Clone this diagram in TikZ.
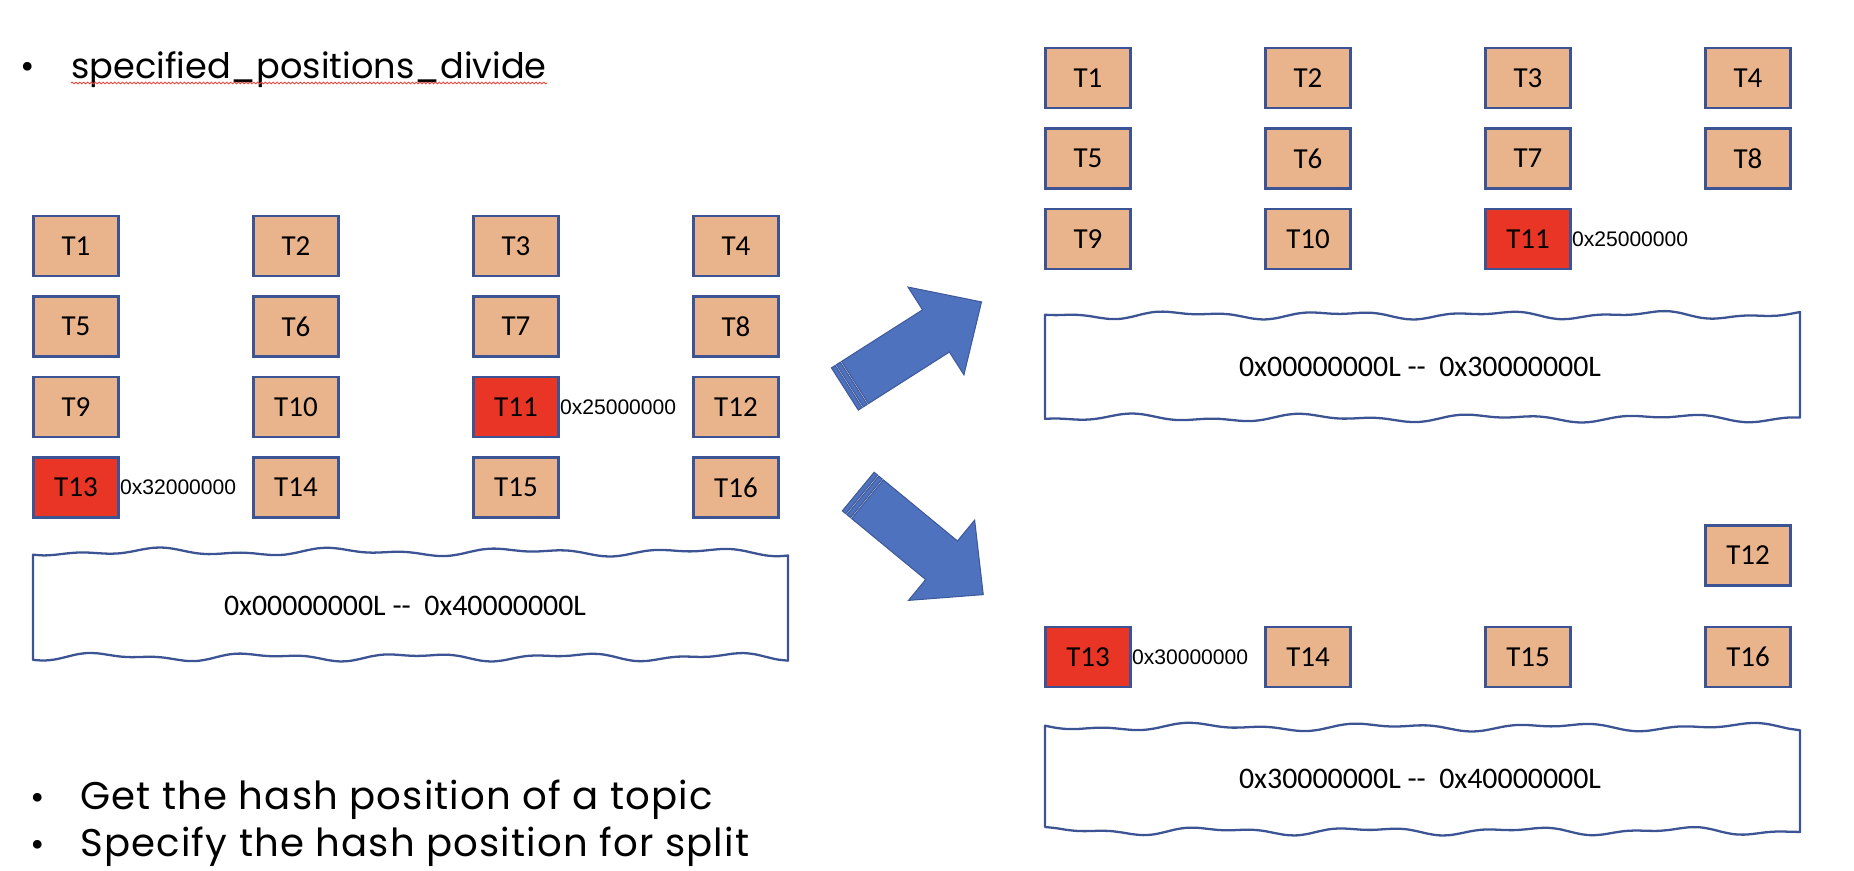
\documentclass[tikz,border=0pt]{standalone}
\usepackage{fontspec}
\newfontfamily\calfont{Carlito}
\newfontfamily\arialfont{Liberation Sans}
\newfontfamily\slidefont{Poppins}
\newfontfamily\hintfont[LetterSpace=3]{Poppins}
\usetikzlibrary{positioning, decorations.pathmorphing}

\definecolor{peach}{RGB}{233,180,139}
\definecolor{hotred}{RGB}{233,53,37}
\definecolor{edgeblue}{RGB}{61,84,148}
\definecolor{arrowblue}{RGB}{79,114,190}
\definecolor{arrowedge}{RGB}{62,90,155}
\definecolor{squiggle}{RGB}{235,70,60}

\begin{document}
\begin{tikzpicture}[
		% one unit = one pixel of the slide, y grows downwards
		x={(0.02cm,0)}, y={(0,-0.02cm)},
		topic/.style={draw=edgeblue, line width=1.4pt, minimum width=1.7cm, minimum height=1.2cm,
			inner sep=0pt, font=\calfont\fontsize{16.5}{18}\selectfont},
		hexlbl/.style={inner sep=0pt, font=\arialfont\fontsize{12}{14}\selectfont},
		rangelbl/.style={inner sep=0pt, font=\calfont\fontsize{17}{20}\selectfont},
		band/.style={draw=edgeblue, line width=1.3pt, line join=round},
		bigarrow/.style={fill=arrowblue, draw=arrowedge, line width=0.6pt, line join=miter},
		slidetext/.style={anchor=base west, inner sep=0pt, font=\slidefont\fontsize{20}{24}\selectfont},
		hinttext/.style={slidetext, font=\hintfont\fontsize{22}{26}\selectfont},
		declare function={
			wtop(\t)=2.6*sin(2.0*\t+20)+1.9*sin(4.4*\t+70);
			wbot(\t)=2.8*sin(2.3*\t+110)+1.7*sin(4.9*\t+10);
		}
		]
		
		\useasboundingbox (0,0) rectangle (1854,870);
		
		% --- title bullet ---
		\node[slidetext] (dot0) at (20,78) {•};
		\node[slidetext] (spd) at (71,78) {specified\_positions\_divide};
		\draw[squiggle, line width=0.5pt, decorate, decoration={snake, amplitude=0.5pt, segment length=2.2pt}]
		([yshift=-0.1cm]spd.base west) -- ([yshift=-0.1cm]spd.base east);
		
		% --- 1. BEFORE THE SPLIT ---
		\foreach \t in {1,...,16}{
			\pgfmathtruncatemacro{\col}{mod(\t-1,4)}
			\pgfmathtruncatemacro{\row}{(\t-1)/4}
			\ifnum\t=11 \def\hue{hotred}\else\ifnum\t=13 \def\hue{hotred}\else\def\hue{peach}\fi\fi
			\node[topic, fill=\hue] (L\t) at ({76+220*\col},{246+80.5*\row}) {T\t};
		}
		\node[hexlbl, right=0pt of L11] (Lh11) {0x25000000};
		\node[hexlbl, right=0pt of L13] (Lh13) {0x32000000};
		
		\begin{scope}[shift={(33,552)}]
			\draw[band] plot[smooth, domain=0:755, samples=70] (\x,{wtop(\x)})
			-- plot[smooth, domain=755:0, samples=70] (\x,{105+wbot(\x)}) -- cycle;
		\end{scope}
		\node[rangelbl] (Lrange) at (405,606) {0x00000000L -{}-\hspace{0.45em}0x40000000L};
		
		% --- 2. THE TWO ARROWS ---
		\begin{scope}[shift={(855,382.5)}, rotate=32.5]
			\draw[bigarrow] (-12,-25) rectangle (-7.5,25);
			\draw[bigarrow] (-6,-25) rectangle (-1.5,25);
			\draw[bigarrow] (0,-25) -- (96,-25) -- (96,-52) -- (150,0) -- (96,52) -- (96,25) -- (0,25) -- cycle;
		\end{scope}
		\begin{scope}[shift={(867.5,499.2)}, rotate=-39.5]
			\draw[bigarrow] (-12,-25) rectangle (-7.5,25);
			\draw[bigarrow] (-6,-25) rectangle (-1.5,25);
			\draw[bigarrow] (0,-25) -- (96,-25) -- (96,-52) -- (150,0) -- (96,52) -- (96,25) -- (0,25) -- cycle;
		\end{scope}
		
		% --- 3. LOWER HALF AFTER THE SPLIT ---
		\foreach \t in {1,...,11}{
			\pgfmathtruncatemacro{\col}{mod(\t-1,4)}
			\pgfmathtruncatemacro{\row}{(\t-1)/4}
			\ifnum\t=11 \def\hue{hotred}\else\def\hue{peach}\fi
			\node[topic, fill=\hue] (A\t) at ({1088+220*\col},{78+80.5*\row}) {T\t};
		}
		\node[hexlbl, right=0pt of A11] (Ah11) {0x25000000};
		
		\begin{scope}[shift={(1045,315)}]
			\draw[band] plot[smooth, domain=0:755, samples=70] (\x,{wbot(\x+90)})
			-- plot[smooth, domain=755:0, samples=70] (\x,{103+wtop(\x+40)}) -- cycle;
		\end{scope}
		\node[rangelbl] (Arange) at (1420,367) {0x00000000L -{}-\hspace{0.45em}0x30000000L};
		
		% --- 4. UPPER HALF AFTER THE SPLIT ---
		\node[topic, fill=peach] (B12) at (1748,555.5) {T12};
		\foreach \t in {13,...,16}{
			\pgfmathtruncatemacro{\col}{\t-13}
			\ifnum\t=13 \def\hue{hotred}\else\def\hue{peach}\fi
			\node[topic, fill=\hue] (B\t) at ({1088+220*\col},657) {T\t};
		}
		\node[hexlbl, right=0pt of B13] (Bh13) {0x30000000};
		
		\begin{scope}[shift={(1045,727)}]
			\draw[band] plot[smooth, domain=0:755, samples=70] (\x,{wtop(\x+150)})
			-- plot[smooth, domain=755:0, samples=70] (\x,{104+wbot(\x+60)}) -- cycle;
		\end{scope}
		\node[rangelbl] (Brange) at (1420,779) {0x30000000L -{}-\hspace{0.45em}0x40000000L};
		
		% --- bottom bullets ---
		\node[slidetext] (dot1) at (30,809) {•};
		\node[hinttext] (hint1) at (80,809) {Get the hash position of a topic};
		\node[slidetext] (dot2) at (30,856) {•};
		\node[hinttext] (hint2) at (80,856) {Specify the hash position for split};
		
	\end{tikzpicture}
\end{document}
